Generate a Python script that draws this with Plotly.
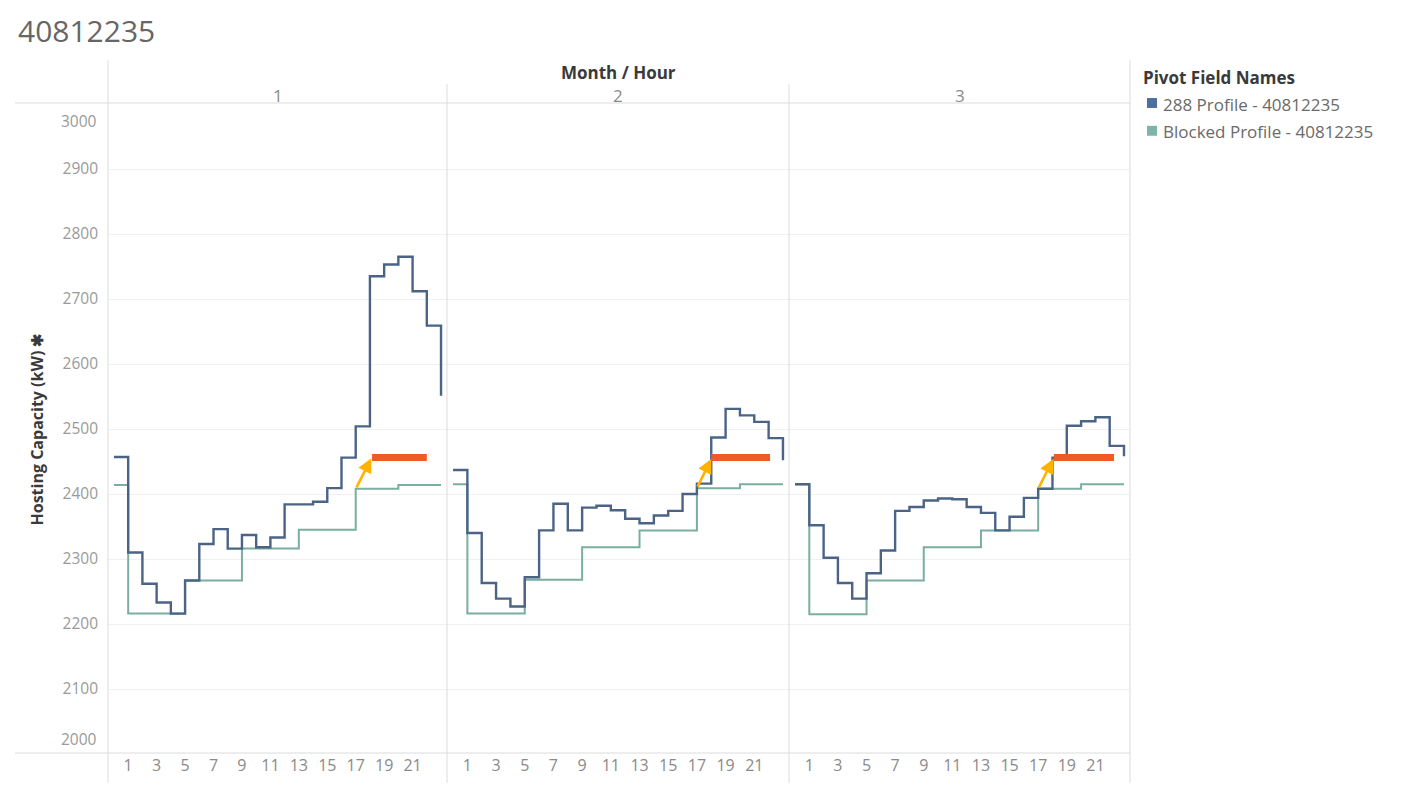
import plotly.graph_objects as go
from plotly.subplots import make_subplots

# ---------------- data ----------------
title_text = "40812235"
months = ["1", "2", "3"]
hours = list(range(24))
tick_hours = [1, 3, 5, 7, 9, 11, 13, 15, 17, 19, 21]
y_ticks = [2100, 2200, 2300, 2400, 2500, 2600, 2700, 2800, 2900]
y_end_ticks = [2000, 3000]

series_names = ["288 Profile - 40812235", "Blocked Profile - 40812235"]

profile_288 = [
    [2457, 2310, 2262, 2233, 2216, 2267, 2323, 2346, 2316, 2337, 2318, 2333,
     2384, 2384, 2388, 2409, 2456, 2504, 2735, 2753, 2765, 2712, 2659, 2551],
    [2437, 2340, 2263, 2239, 2227, 2272, 2344, 2385, 2344, 2379, 2382, 2375,
     2362, 2355, 2367, 2374, 2400, 2416, 2487, 2531, 2521, 2511, 2486, 2452],
    [2415, 2352, 2302, 2263, 2239, 2278, 2313, 2374, 2380, 2390, 2393, 2392,
     2380, 2371, 2344, 2365, 2394, 2408, 2456, 2505, 2512, 2518, 2474, 2458],
]
blocked_profile = [
    [2414, 2216, 2216, 2216, 2216, 2267, 2267, 2267, 2267, 2316, 2316, 2316,
     2316, 2345, 2345, 2345, 2345, 2408, 2408, 2408, 2414, 2414, 2414, 2414],
    [2415, 2216, 2216, 2216, 2216, 2268, 2268, 2268, 2268, 2318, 2318, 2318,
     2318, 2344, 2344, 2344, 2344, 2409, 2409, 2409, 2415, 2415, 2415, 2415],
    [2415, 2215, 2215, 2215, 2215, 2267, 2267, 2267, 2267, 2318, 2318, 2318,
     2318, 2344, 2344, 2344, 2344, 2408, 2408, 2408, 2415, 2415, 2415, 2415],
]

# highlight bar (red) and arrow (yellow) per month
highlight_start = [18.15, 18.0, 18.1]
highlight_end = [22.0, 22.1, 22.3]
highlight_level = [2456, 2456, 2456]
arrow_tail_x = [17.0, 17.0, 17.0]
arrow_tail_y = [2408, 2409, 2408]
arrow_head_x = [18.1, 18.0, 18.05]
arrow_head_y = [2455, 2454, 2454]

# ---------------- style ----------------
DARK = "#4B6486"
DARK_SW = "#4E6E9E"
GREEN = "#7AAEA0"
GREEN_SW = "#7DB5A8"
RED = "#F05A28"
YELLOW = "#FFB300"
FONT = "Open Sans"
BORDER = "#DCDCDC"
TICK_COLOR = "#9A9A9A"

OFF = 8  # page body margin
W, H = 1426 - OFF, 788 - OFF
L, R, T, B = 108 - OFF, 1130 - OFF, 104 - OFF, 759 - OFF

def px(xp):
    return (xp - OFF - L) / (R - L)

def py(yp):
    return (B - (yp - OFF)) / (B - T)

d1 = px(447)
d2 = px(789)
fig = make_subplots(rows=1, cols=3, shared_yaxes=True, horizontal_spacing=0)
domains = [[0, d1], [d1, d2], [d2, 1]]

for i in range(3):
    col = i + 1
    fig.add_trace(go.Scatter(x=hours, y=blocked_profile[i], mode="lines",
                             line=dict(color=GREEN, width=2, shape="hv"),
                             name=series_names[1], showlegend=False,
                             hoverinfo="skip"), row=1, col=col)
    fig.add_trace(go.Scatter(x=hours, y=profile_288[i], mode="lines",
                             line=dict(color=DARK, width=2.4, shape="hv"),
                             name=series_names[0], showlegend=False,
                             hoverinfo="skip"), row=1, col=col)
    fig.add_trace(go.Scatter(x=[highlight_start[i], highlight_end[i]],
                             y=[highlight_level[i], highlight_level[i]],
                             mode="lines", line=dict(color=RED, width=7),
                             showlegend=False, hoverinfo="skip"), row=1, col=col)
    xa = "x" if i == 0 else f"x{col}"
    fig.add_annotation(x=arrow_head_x[i], y=arrow_head_y[i],
                       ax=arrow_tail_x[i], ay=arrow_tail_y[i],
                       xref=xa, yref="y", axref=xa, ayref="y",
                       showarrow=True, arrowhead=2, arrowsize=1.1,
                       arrowwidth=2.6, arrowcolor=YELLOW, text="")
    fig.update_xaxes(domain=domains[i], range=[-0.42, 23.42],
                     tickmode="array", tickvals=tick_hours,
                     ticktext=[str(h) for h in tick_hours],
                     showgrid=False, zeroline=False, showline=False,
                     ticks="", tickfont=dict(family=FONT, size=16, color="#8A8A8A"),
                     row=1, col=col)
    # month header
    fig.add_annotation(x=(domains[i][0] + domains[i][1]) / 2, y=py(95),
                       xref="paper", yref="paper", text=months[i],
                       showarrow=False, xanchor="center", yanchor="middle",
                       font=dict(family=FONT, size=17, color="#8A8A8A"))

fig.update_yaxes(range=[2000, 3000], tickmode="array", tickvals=y_ticks,
                 showgrid=True, gridcolor="#F1F1F1", gridwidth=1,
                 zeroline=False, showline=False, ticks="",
                 tickfont=dict(family=FONT, size=15.5, color=TICK_COLOR),
                 ticklabelstandoff=9)
fig.update_yaxes(showgrid=True, row=1, col=2)
fig.update_yaxes(showgrid=True, row=1, col=3)

# end labels of the value axis, nudged inside the pane as in the original
end_label_px = {2000: 744, 3000: 121}
for v in y_end_ticks:
    fig.add_annotation(x=px(99), y=py(end_label_px[v]), xref="paper", yref="paper",
                       text=str(v), showarrow=False, xanchor="right", yanchor="middle",
                       font=dict(family=FONT, size=15.5, color=TICK_COLOR))

# frame lines
shapes = []
def line(x0, y0, x1, y1):
    shapes.append(dict(type="line", xref="paper", yref="paper",
                       x0=x0, y0=y0, x1=x1, y1=y1,
                       line=dict(color=BORDER, width=1), layer="above"))

line(px(15), py(103), 1, py(103))
line(px(15), py(758), 1, py(758))
line(0, py(60), 0, py(788))
line(d1, py(84), d1, py(788))
line(d2, py(84), d2, py(788))
line(1, py(60), 1, py(788))

# legend swatches
shapes.append(dict(type="rect", xref="paper", yref="paper",
                   x0=px(1147), x1=px(1157), y0=py(108), y1=py(98),
                   fillcolor=DARK_SW, line=dict(width=0)))
shapes.append(dict(type="rect", xref="paper", yref="paper",
                   x0=px(1147), x1=px(1157), y0=py(136), y1=py(126),
                   fillcolor=GREEN_SW, line=dict(width=0)))

annotations = [
    dict(x=px(17), y=py(30), xref="paper", yref="paper", text=title_text,
         showarrow=False, xanchor="left", yanchor="middle", borderpad=0,
         font=dict(family=FONT, size=30, color="#666666")),
    dict(x=px(618), y=py(72), xref="paper", yref="paper", text="<b>Month / Hour</b>",
         showarrow=False, xanchor="center", yanchor="middle",
         font=dict(family=FONT, size=17, color="#3A3A3A")),
    dict(x=px(37), y=py(432), xref="paper", yref="paper",
         text="<b>Hosting Capacity (kW) ✱</b>", textangle=-90,
         showarrow=False, xanchor="center", yanchor="middle",
         font=dict(family=FONT, size=16, color="#3A3A3A")),
    dict(x=px(1141), y=py(77), xref="paper", yref="paper",
         text="<b>Pivot Field Names</b>", showarrow=False,
         xanchor="left", yanchor="middle",
         font=dict(family=FONT, size=17, color="#3A3A3A")),
    dict(x=px(1161), y=py(104), xref="paper", yref="paper",
         text=series_names[0], showarrow=False, xanchor="left", yanchor="middle",
         font=dict(family=FONT, size=17, color="#6A6A6A")),
    dict(x=px(1161), y=py(132), xref="paper", yref="paper",
         text=series_names[1], showarrow=False, xanchor="left", yanchor="middle",
         font=dict(family=FONT, size=17, color="#6A6A6A")),
]
for a in annotations:
    fig.add_annotation(**a)

fig.update_layout(width=W, height=H,
                  margin=dict(l=L, r=W - R, t=T, b=H - B),
                  plot_bgcolor="white", paper_bgcolor="white",
                  showlegend=False, shapes=shapes,
                  font=dict(family=FONT))

fig.write_html("out.html")
